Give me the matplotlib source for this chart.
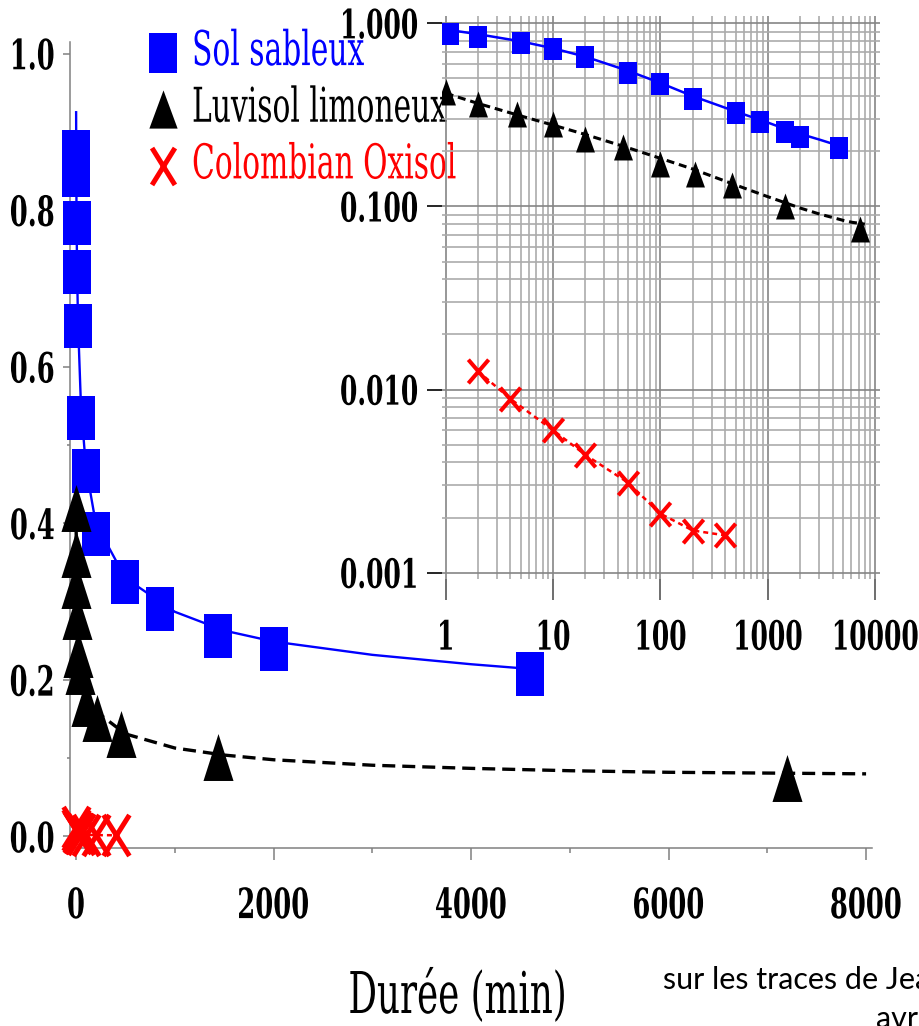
import numpy as np
import matplotlib
matplotlib.use("Agg")
import matplotlib.pyplot as plt
from matplotlib.lines import Line2D
from matplotlib.path import Path
from matplotlib.patheffects import AbstractPathEffect
from matplotlib.ticker import FixedLocator, LogLocator, NullFormatter
from matplotlib.transforms import Affine2D

# mesures (fraction restante en fonction de la durée, min)
t_sable = [1.1, 2, 5, 10, 20, 50, 100, 200, 500, 850, 1440, 2000, 4600]
v_sable = [0.874, 0.845, 0.784, 0.721, 0.652, 0.534, 0.467, 0.386, 0.325, 0.290, 0.256, 0.239, 0.208]

t_luvisol = [1, 2, 4.6, 10, 20, 45, 100, 210, 460, 1440, 7200]
v_luvisol = [0.420, 0.361, 0.321, 0.282, 0.233, 0.211, 0.171, 0.151, 0.131, 0.101, 0.075]

t_oxisol = [2, 4, 10, 20, 50, 100, 200, 400]
v_oxisol = [0.0126, 0.0089, 0.0060, 0.0044, 0.0031, 0.0021, 0.0017, 0.0016]

# courbes d'ajustement
t_fit_sable = [1, 2, 5, 10, 20, 50, 100, 200, 500, 1000, 1500, 2000, 3000, 4000, 4600]
v_fit_sable = [0.925, 0.872, 0.797, 0.730, 0.657, 0.550, 0.472, 0.400, 0.330, 0.287, 0.263, 0.249, 0.232, 0.220, 0.214]

t_fit_luvisol = [1, 2, 5, 10, 20, 50, 100, 200, 500, 1000, 1500, 2000, 3000, 4000, 5000, 6000, 7000, 8000]
v_fit_luvisol = [0.415, 0.365, 0.312, 0.278, 0.247, 0.209, 0.183, 0.160, 0.131, 0.113, 0.104, 0.098, 0.091, 0.087, 0.084, 0.082, 0.081, 0.080]

labels = ["Sol sableux", "Luvisol limoneux", "Colombian Oxisol"]

x_ticks = [0, 2000, 4000, 6000, 8000]
x_minor = [1000, 3000, 5000, 7000]
y_ticks = [0.0, 0.2, 0.4, 0.6, 0.8, 1.0]
y_minor = [0.1, 0.3, 0.5, 0.7, 0.9]
log_x_ticks = [1, 10, 100, 1000, 10000]
log_y_ticks = [0.001, 0.01, 0.1, 1.0]

BLUE, BLACK, RED = "#0000ff", "black", "#ff0000"
SY = 1 / 0.62  # police étroite : texte étiré en hauteur
W, H = 919, 1026

plt.rcParams["font.family"] = "DejaVu Serif"


class Stretch(AbstractPathEffect):
    def __init__(self, sy=SY, anchor="baseline"):
        super().__init__()
        self.sy = sy
        self.anchor = anchor

    def draw_path(self, renderer, gc, tpath, affine, rgbFace=None):
        ext = tpath.get_extents()
        y0 = {"baseline": 0.0, "top": ext.y1, "center": 0.5 * (ext.y0 + ext.y1)}[self.anchor]
        st = Affine2D().translate(0, -y0).scale(1, self.sy).translate(0, y0)
        renderer.draw_path(gc, tpath, st + affine, rgbFace)


def box(a):
    return [(-a, -1), (a, -1), (a, 1), (-a, 1), (-a, -1)]


def tri(a):
    return [(0, 1), (-a, -1), (a, -1), (0, 1)]


def cross(a):
    return Path([(-a, -1), (a, 1), (-a, 1), (a, -1)],
                [Path.MOVETO, Path.LINETO, Path.MOVETO, Path.LINETO])


fig = plt.figure(figsize=(W / 100, H / 100), dpi=100)

# ---- graphe principal (échelle linéaire)
ax = fig.add_axes([70 / W, 1 - 848 / H, 802 / W, 806 / H])
ax.plot(t_fit_sable, v_fit_sable, color=BLUE, lw=1.7, zorder=3)
ax.plot(t_fit_luvisol, v_fit_luvisol, color=BLACK, lw=2.4, dashes=(3.9, 2.1), zorder=3)
ax.plot(t_oxisol, v_oxisol, color=RED, lw=1.8, dashes=(2.0, 1.6), zorder=3)
ax.plot(t_sable, v_sable, ls="none", marker=box(0.65), ms=31, mew=0, color=BLUE, zorder=4, clip_on=False)
ax.plot(t_luvisol, v_luvisol, ls="none", marker=tri(0.64), ms=33.8, mew=0, color=BLACK, zorder=5, clip_on=False)
ax.plot(t_oxisol, v_oxisol, ls="none", marker=cross(0.63), ms=29.5, mew=3.6, color=RED, zorder=6, clip_on=False)

ax.set_xlim(-61, 8060)
ax.set_ylim(-0.0147, 1.0147)
ax.spines[["top", "right"]].set_visible(False)
for s in ["left", "bottom"]:
    ax.spines[s].set_color("#808080")
    ax.spines[s].set_linewidth(1.1)
ax.set_xticks(x_ticks, [str(v) for v in x_ticks])
ax.set_yticks(y_ticks, ["%.1f" % v for v in y_ticks])
ax.xaxis.set_minor_locator(FixedLocator(x_minor))
ax.yaxis.set_minor_locator(FixedLocator(y_minor))
ax.tick_params(axis="x", which="major", length=8.6, width=1.1, color="#808080", pad=19, labelsize=18.6)
ax.tick_params(axis="x", which="minor", length=3.6, width=1.1, color="#808080")
ax.tick_params(axis="y", which="major", length=5, width=1.1, color="#808080", pad=5.8, labelsize=18.6)
ax.tick_params(axis="y", which="minor", length=2.4, width=1.1, color="#808080")
for lab in ax.get_xticklabels():
    lab.set_fontweight("bold")
    lab.set_path_effects([Stretch(SY, "top")])
for lab in ax.get_yticklabels():
    lab.set_fontweight("bold")
    lab.set_path_effects([Stretch(SY, "center")])

ax.set_xlabel("Durée (min)", fontsize=25.7)
ax.xaxis.label.set_verticalalignment("baseline")
ax.xaxis.label.set_path_effects([Stretch(SY, "baseline")])
ax.xaxis.set_label_coords(457.5 / W, 1 - 1013 / H, transform=fig.transFigure)

# légende
handles = [
    Line2D([], [], ls="none", marker=box(0.675), ms=29, mew=0, color=BLUE),
    Line2D([], [], ls="none", marker=tri(0.74), ms=27.5, mew=0, color=BLACK),
    Line2D([], [], ls="none", marker=cross(0.62), ms=26.6, mew=3.6, color=RED),
]
leg = ax.legend(handles, labels, loc="upper left", bbox_to_anchor=(148.8 / W, 1 - 40 / H),
                bbox_transform=fig.transFigure, frameon=False, prop={"size": 21.4},
                handlelength=0.97, handleheight=1.18, handletextpad=0.485, labelspacing=0.86,
                borderpad=0, borderaxespad=0, labelcolor=[BLUE, BLACK, RED])
for t in leg.get_texts():
    t.set_path_effects([Stretch(SY, "baseline")])

# ---- encart log-log
axi = fig.add_axes([441.7 / W, 1 - 579 / H, (880 - 441.7) / W, (579 - 16) / H], facecolor="none")
axi.set_xscale("log")
axi.set_yscale("log")
axi.plot(t_fit_sable, v_fit_sable, color=BLUE, lw=1.8, zorder=3)
axi.plot(t_fit_luvisol, v_fit_luvisol, color=BLACK, lw=2.2, dashes=(2.6, 1.6), zorder=3)
axi.plot(t_oxisol, v_oxisol, color=RED, lw=1.8, dashes=(2.0, 1.6), zorder=3)
axi.plot(t_sable, v_sable, ls="none", marker=box(0.78), ms=16.5, mew=0, color=BLUE, zorder=4)
axi.plot(t_luvisol, v_luvisol, ls="none", marker=tri(0.73), ms=18.7, mew=0, color=BLACK, zorder=5)
axi.plot(t_oxisol, v_oxisol, ls="none", marker=cross(0.86), ms=17, mew=2.9, color=RED, zorder=6)

for s in axi.spines.values():
    s.set_visible(False)
axi.set_xticks(log_x_ticks, [str(v) for v in log_x_ticks])
axi.set_yticks(log_y_ticks, ["%.3f" % v for v in log_y_ticks])
axi.xaxis.set_minor_locator(LogLocator(base=10, subs=np.arange(2, 10), numticks=30))
axi.yaxis.set_minor_locator(LogLocator(base=10, subs=np.arange(2, 10), numticks=30))
axi.xaxis.set_minor_formatter(NullFormatter())
axi.yaxis.set_minor_formatter(NullFormatter())
axi.set_xlim(0.918, 11070)
axi.set_ylim(0.000924, 1.096)
axi.set_axisbelow(True)
axi.grid(True, which="major", color="#858585", lw=1.2)
axi.grid(True, which="minor", color="#ababab", lw=1.2)
axi.tick_params(which="minor", length=0)
axi.tick_params(axis="x", which="major", length=15, width=1.2, color="#555555", pad=14, labelsize=18)
axi.tick_params(axis="y", which="major", length=10.5, width=1.2, color="black", pad=6.5, labelsize=18)
for lab in axi.get_xticklabels():
    lab.set_fontweight("bold")
    lab.set_path_effects([Stretch(SY, "top")])
for lab in axi.get_yticklabels():
    lab.set_fontweight("bold")
    lab.set_path_effects([Stretch(SY, "center")])

# mention en bas à droite (coupée par le bord, comme l'original)
fig.text(663 / W, 1 - 989 / H, "sur les traces de Jean", family="Lato", fontsize=22, va="baseline")
fig.text(876 / W, 1 - 1028 / H, "avril", family="Lato", fontsize=22, va="baseline")

fig.savefig("out.png", dpi=100)
